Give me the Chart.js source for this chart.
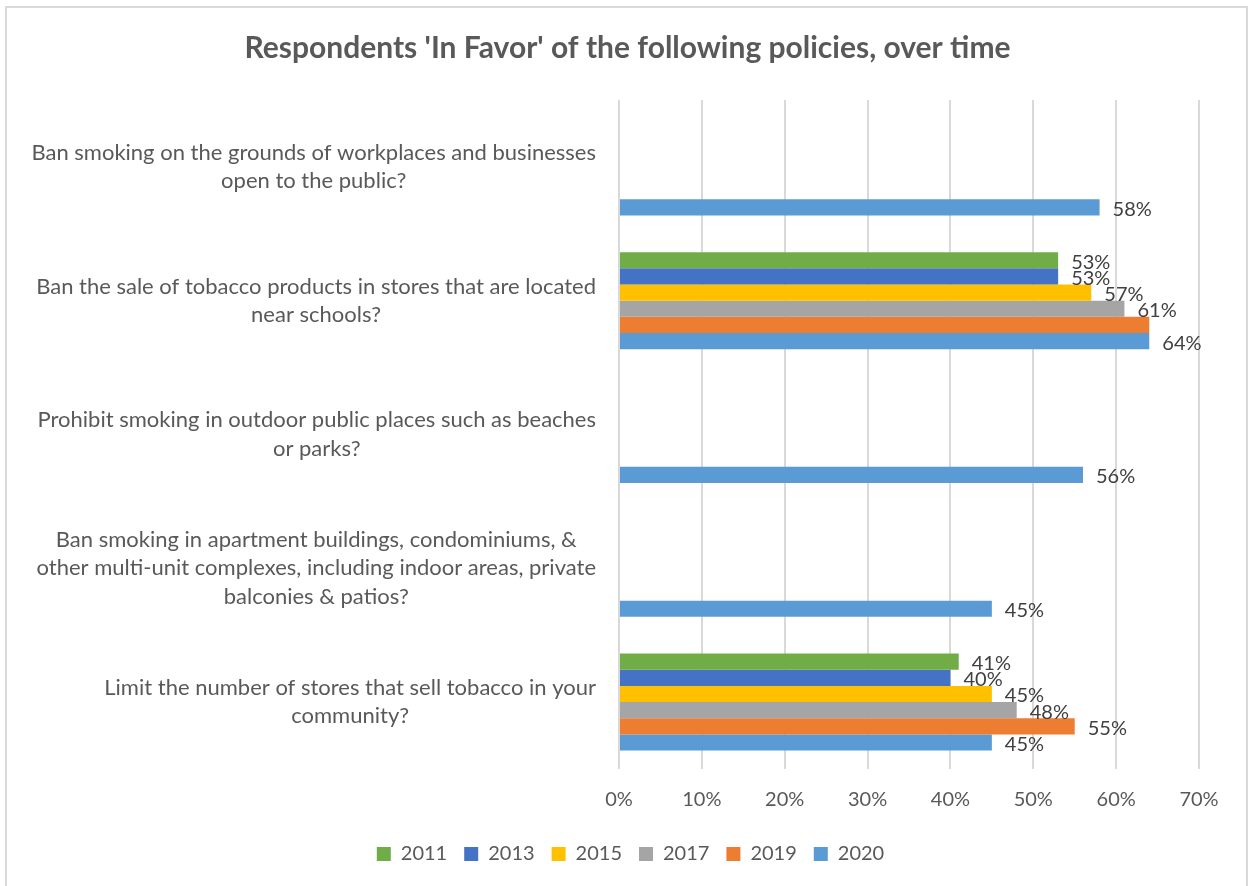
<!DOCTYPE html>
<html lang="en">
<head>
  <meta charset="UTF-8">
  <title>Respondents 'In Favor' of the following policies, over time</title>
  <style>
    * {
      margin: 0;
      padding: 0;
      box-sizing: border-box;
    }

    body {
      width: 1250px;
      height: 886px;
      overflow: hidden;
      background: #ffffff;
      font-family: "Lato", sans-serif;
    }

    #chart-wrap {
      position: absolute;
      left: 0;
      top: 0;
      width: 1250px;
      height: 886px;
    }

    /* light frame round the chart area, runs off the bottom edge */
    .frame {
      position: absolute;
      left: 5px;
      top: 6px;
      width: 1243px;
      height: 920px;
      border: 2px solid #d9d9d9;
      pointer-events: none;
    }
  </style>
</head>
<body>
  <div id="chart-wrap">
    <canvas id="policies"></canvas>
  </div>
  <div class="frame"></div>

  <script src="https://cdn.jsdelivr.net/npm/chart.js"></script>
  <script>
    // policy questions, one array of lines per category
    const categories = [
      ['Ban smoking on the grounds of workplaces and businesses', 'open to the public?'],
      ['Ban the sale of tobacco products in stores that are located', 'near schools?'],
      ['Prohibit smoking in outdoor public places such as beaches', 'or parks?'],
      ['Ban smoking in apartment buildings, condominiums, &', 'other multi-unit complexes, including indoor areas, private', 'balconies & patios?'],
      ['Limit the number of stores that sell tobacco in your', 'community?']
    ];

    const years = ['2011', '2013', '2015', '2017', '2019', '2020'];

    // percent in favor, per survey year (null = not asked that year)
    const v2011 = [null, 53, null, null, 41];
    const v2013 = [null, 53, null, null, 40];
    const v2015 = [null, 57, null, null, 45];
    const v2017 = [null, 61, null, null, 48];
    const v2019 = [null, 64, null, null, 55];
    const v2020 = [58, 64, 56, 45, 45];

    const xTicks = [0, 10, 20, 30, 40, 50, 60, 70];

    // value labels left off: [dataset index, category index]
    const unlabeled = [[4, 1]];

    const colors = ['#70AD47', '#4472C4', '#FFC000', '#A5A5A5', '#ED7D31', '#5B9BD5'];
    const series = [v2011, v2013, v2015, v2017, v2019, v2020];

    const FONT = '"Lato", sans-serif';
    const TEXT = '#595959';

    // category text: lines centred in a block that sits against the plot
    const categoryLabels = {
      id: 'categoryLabels',
      afterDraw(chart) {
        const yScale = chart.scales.y;
        const ctx = chart.ctx;
        const right = chart.chartArea.left - 23;
        const lineH = 28.5;
        ctx.save();
        ctx.font = '22px ' + FONT;
        ctx.fillStyle = TEXT;
        ctx.textAlign = 'center';
        ctx.textBaseline = 'middle';
        chart.data.labels.forEach((lines, i) => {
          const widest = Math.max(...lines.map(l => ctx.measureText(l).width));
          const cx = right - widest / 2;
          const cy = yScale.getPixelForValue(i);
          const y0 = cy - (lines.length - 1) * lineH / 2;
          lines.forEach((l, j) => ctx.fillText(l, cx, y0 + j * lineH));
        });
        ctx.restore();
      }
    };

    // percentage written just past the end of each bar
    const valueLabels = {
      id: 'valueLabels',
      afterDatasetsDraw(chart) {
        const ctx = chart.ctx;
        ctx.save();
        ctx.font = '20px ' + FONT;
        ctx.fillStyle = '#404040';
        ctx.textAlign = 'left';
        ctx.textBaseline = 'middle';
        chart.data.datasets.forEach((ds, d) => {
          chart.getDatasetMeta(d).data.forEach((bar, i) => {
            const v = ds.data[i];
            if (v === null || v === undefined) return;
            if (unlabeled.some(([a, b]) => a === d && b === i)) return;
            ctx.fillText(v + '%', bar.x + 13, bar.y + 2);
          });
        });
        ctx.restore();
      }
    };

    // title and legend are centred on the whole frame, not on the plot box
    const recentre = {
      id: 'recentre',
      afterLayout(chart) {
        chart.legend.left += 31;
        chart.legend.right += 31;
        chart.titleBlock.left += 28;
        chart.titleBlock.right += 28;
      }
    };

    const ctx = document.getElementById('policies');

    new Chart(ctx, {
      type: 'bar',
      data: {
        labels: categories,
        datasets: years.map((y, i) => ({
          label: y,
          data: series[i],
          backgroundColor: colors[i],
          borderWidth: 0,
          categoryPercentage: 0.725,
          barPercentage: 1
        }))
      },
      plugins: [categoryLabels, valueLabels, recentre],
      options: {
        indexAxis: 'y',
        responsive: true,
        maintainAspectRatio: false,
        animation: false,
        layout: {
          padding: { top: 0, right: 51, bottom: 12, left: 0 }
        },
        scales: {
          x: {
            min: 0,
            max: 70,
            afterBuildTicks(scale) {
              scale.ticks = xTicks.map(v => ({ value: v }));
            },
            afterFit(scale) {
              scale.height = 58;
            },
            grid: {
              color: '#d9d9d9',
              lineWidth: 2,
              drawTicks: false
            },
            border: { display: false },
            ticks: {
              padding: 19,
              color: TEXT,
              font: { family: FONT, size: 20 },
              callback: v => v + '%'
            }
          },
          y: {
            afterFit(scale) {
              scale.width = 619;
            },
            grid: { display: false },
            border: { display: false },
            ticks: { display: false }
          }
        },
        plugins: {
          title: {
            display: true,
            text: "Respondents 'In Favor' of the following policies, over time",
            color: TEXT,
            font: { family: FONT, size: 30, weight: 'bold', lineHeight: 1.2 },
            padding: { top: 30, bottom: 34 }
          },
          legend: {
            position: 'bottom',
            labels: {
              color: TEXT,
              boxWidth: 14,
              boxHeight: 14,
              padding: 17,
              font: { family: FONT, size: 20 }
            }
          },
          tooltip: { enabled: false }
        }
      }
    });
  </script>
</body>
</html>
